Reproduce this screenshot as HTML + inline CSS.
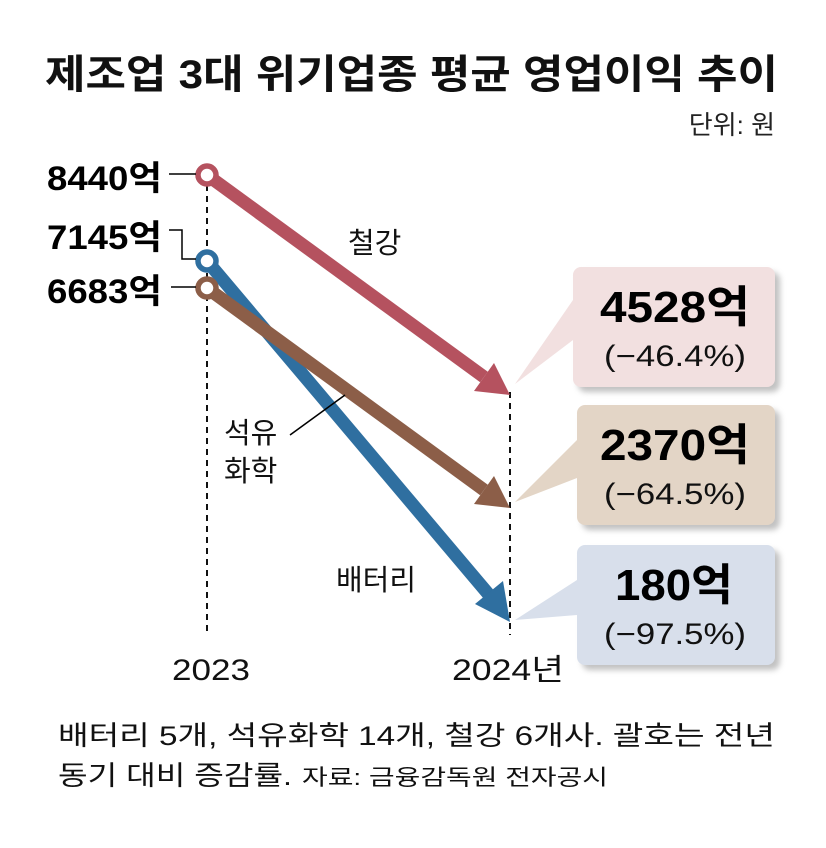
<!DOCTYPE html>
<html><head><meta charset="utf-8"><style>
body{margin:0;background:#fff;}
svg text{font-family:"Liberation Sans","Noto Sans CJK KR",sans-serif;}
</style></head><body>
<svg width="826" height="843" viewBox="0 0 826 843" xmlns="http://www.w3.org/2000/svg">
<defs><filter id="b" x="-10%" y="-10%" width="130%" height="130%"><feGaussianBlur stdDeviation="3"/></filter></defs>
<rect width="826" height="843" fill="#fff"/>
<text x="45" y="88" font-size="40" font-weight="bold" fill="#111" textLength="733" lengthAdjust="spacingAndGlyphs">제조업 3대 위기업종 평균 영업이익 추이</text>
<text x="775" y="134" text-anchor="end" font-size="26" fill="#222">단위: 원</text>
<line x1="207" y1="185" x2="207" y2="635" stroke="#111" stroke-width="2" stroke-dasharray="6,5"/>
<line x1="510" y1="392" x2="510" y2="635" stroke="#111" stroke-width="2" stroke-dasharray="6,5"/>
<g>
<rect x="578" y="272" width="202" height="120" rx="8" fill="#999" opacity="0.6" filter="url(#b)"/>
<path d="M573 300 L515 384 L573 340 Z" fill="#f2e0e0"/>
<rect x="573" y="267" width="202" height="120" rx="8" fill="#f2e0e0"/>
<rect x="582" y="410" width="198" height="120" rx="8" fill="#999" opacity="0.6" filter="url(#b)"/>
<path d="M577 440 L515 502 L577 478 Z" fill="#e3d5c6"/>
<rect x="577" y="405" width="198" height="120" rx="8" fill="#e3d5c6"/>
<rect x="582" y="550" width="198" height="120" rx="8" fill="#999" opacity="0.6" filter="url(#b)"/>
<path d="M577 580 L515 620 L577 615 Z" fill="#d8dfeb"/>
<rect x="577" y="545" width="198" height="120" rx="8" fill="#d8dfeb"/>
</g>
<text x="600" y="322" font-size="44" font-weight="bold" fill="#000" textLength="150" lengthAdjust="spacingAndGlyphs">4528억</text>
<text x="604" y="366" font-size="30" fill="#111" textLength="142" lengthAdjust="spacingAndGlyphs">(−46.4%)</text>
<text x="600" y="460" font-size="44" font-weight="bold" fill="#000" textLength="150" lengthAdjust="spacingAndGlyphs">2370억</text>
<text x="604" y="504" font-size="30" fill="#111" textLength="142" lengthAdjust="spacingAndGlyphs">(−64.5%)</text>
<text x="615" y="600" font-size="44" font-weight="bold" fill="#000" textLength="118" lengthAdjust="spacingAndGlyphs">180억</text>
<text x="604" y="644" font-size="30" fill="#111" textLength="142" lengthAdjust="spacingAndGlyphs">(−97.5%)</text>
<line x1="207" y1="261" x2="490" y2="596" stroke="#2f6fa0" stroke-width="13"/>
<path d="M510 622 L475 604 L503 581 Z" fill="#2f6fa0"/>
<line x1="207" y1="288" x2="484" y2="490" stroke="#8c5e48" stroke-width="13"/>
<path d="M510 508 L474 504 L494 476 Z" fill="#8c5e48"/>
<line x1="207" y1="175" x2="484" y2="377" stroke="#b5525f" stroke-width="13"/>
<path d="M510 395 L474 391 L494 363 Z" fill="#b5525f"/>
<circle cx="207" cy="175" r="9" fill="#fff" stroke="#b5525f" stroke-width="5.5"/>
<circle cx="207" cy="261" r="9" fill="#fff" stroke="#2f6fa0" stroke-width="5.5"/>
<circle cx="207" cy="288" r="9" fill="#fff" stroke="#8c5e48" stroke-width="5.5"/>
<text x="47" y="190" font-size="34" font-weight="bold" fill="#000" textLength="115" lengthAdjust="spacingAndGlyphs">8440억</text>
<text x="47" y="249" font-size="34" font-weight="bold" fill="#000" textLength="115" lengthAdjust="spacingAndGlyphs">7145억</text>
<text x="47" y="303" font-size="34" font-weight="bold" fill="#000" textLength="115" lengthAdjust="spacingAndGlyphs">6683억</text>
<line x1="169" y1="174" x2="196" y2="174" stroke="#000" stroke-width="1.5"/>
<polyline points="169,230 182,230 182,259 196,259" fill="none" stroke="#000" stroke-width="1.5"/>
<line x1="171" y1="287" x2="196" y2="287" stroke="#000" stroke-width="1.5"/>
<text x="348" y="253" font-size="29" fill="#111">철강</text>
<text x="224" y="443" font-size="29" fill="#111">석유</text>
<text x="224" y="481" font-size="29" fill="#111">화학</text>
<line x1="290" y1="435" x2="345" y2="395" stroke="#000" stroke-width="1.5"/>
<text x="336" y="590" font-size="29" fill="#111">배터리</text>
<text x="172" y="680" font-size="30" fill="#111" textLength="78" lengthAdjust="spacingAndGlyphs">2023</text>
<text x="452" y="680" font-size="30" fill="#111" textLength="112" lengthAdjust="spacingAndGlyphs">2024년</text>
<text x="58" y="745" font-size="27" fill="#111" textLength="717" lengthAdjust="spacingAndGlyphs">배터리 5개, 석유화학 14개, 철강 6개사. 괄호는 전년</text>
<text x="58" y="785" font-size="27" fill="#111" textLength="234" lengthAdjust="spacingAndGlyphs">동기 대비 증감률.</text>
<text x="302" y="785" font-size="22" fill="#111" textLength="306" lengthAdjust="spacingAndGlyphs">자료: 금융감독원 전자공시</text>
</svg>
</body></html>
